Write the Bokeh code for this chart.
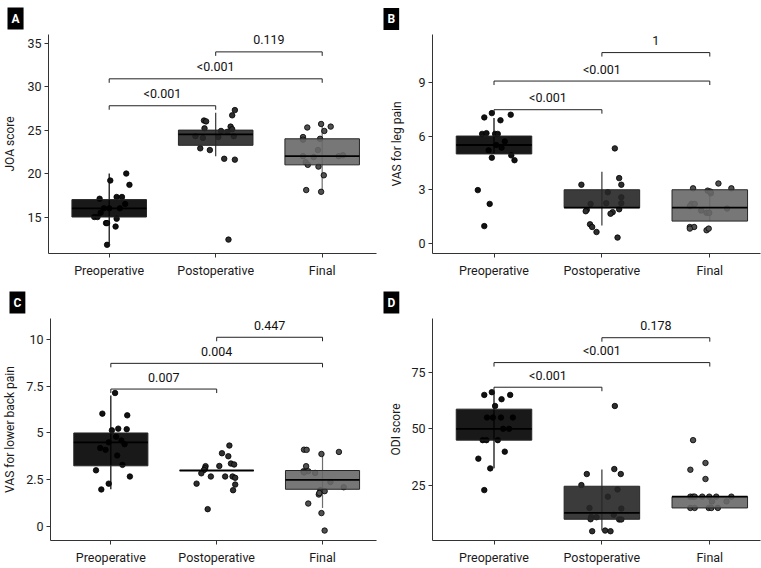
from bokeh.plotting import figure
from bokeh.models import Range1d, FixedTicker, Label, Title
from bokeh.layouts import column, row
from bokeh.embed import file_html
from bokeh.resources import INLINE

categories = ["Preoperative", "Postoperative", "Final"]

# ---------------- Panel A: JOA score ----------------
a_ylabel = "JOA score"
a_yticks = [15, 20, 25, 30, 35]
a_q1 = [15, 23.25, 21]
a_med = [16, 24.5, 22]
a_q3 = [17, 25, 24]
a_wlo = [12, 22, 18]
a_whi = [20, 27, 26]
a_pre = [11.8, 19.2, 20.0, 18.7, 17.1, 17.3, 17.3, 15.0, 15.0, 14.8, 14.3, 14.3, 13.9, 16.0, 16.0, 16.0, 16.5, 15.5]
a_pre_j = [-0.02, 0.01, 0.16, 0.19, -0.09, 0.07, 0.12, -0.14, -0.11, 0.07, -0.03, -0.02, 0.06, 0.0, 0.1, -0.05, 0.15, -0.08]
a_post = [26.1, 26.0, 27.3, 26.7, 25.4, 25.1, 25.2, 24.3, 24.1, 24.2, 24.9, 24.8, 24.3, 22.9, 22.7, 21.7, 21.6, 12.4]
a_post_j = [-0.11, -0.09, 0.18, 0.155, 0.14, 0.155, -0.105, -0.19, -0.12, 0.025, 0.05, 0.11, 0.17, -0.145, -0.055, 0.08, 0.18, 0.12]
a_final = [25.3, 25.7, 25.4, 24.9, 24.2, 23.9, 24.0, 22.7, 22.0, 21.9, 22.0, 22.1, 21.3, 21.0, 20.8, 19.8, 18.1, 17.9]
a_final_j = [-0.14, -0.01, 0.08, 0.02, -0.18, -0.18, -0.02, -0.04, -0.18, -0.08, 0.155, 0.195, -0.155, -0.135, -0.035, 0.015, -0.15, -0.01]
a_pairs = [(1, 2), (1, 3), (2, 3)]
a_bracket_y = [27.8, 30.9, 34.0]
a_pvalues = ["<0.001", "<0.001", "0.119"]

# ---------------- Panel B: VAS for leg pain ----------------
b_ylabel = "VAS for leg pain"
b_yticks = [0, 3, 6, 9]
b_q1 = [5, 2, 1.25]
b_med = [5.5, 2, 2]
b_q3 = [6, 3, 3]
b_wlo = [5, 1, 1.25]
b_whi = [7, 4, 3]
b_pre = [7.28, 7.04, 7.19, 6.88, 6.12, 6.16, 6.12, 6.12, 4.79, 4.92, 4.65, 2.98, 2.21, 0.97, 5.7, 5.35, 5.5, 5.2]
b_pre_j = [-0.02, -0.09, 0.155, 0.06, -0.11, -0.07, 0.01, 0.035, -0.02, 0.16, 0.19, -0.15, -0.04, -0.09, 0.1, 0.07, 0.02, -0.05]
b_post = [3.28, 5.31, 3.65, 3.28, 2.86, 2.58, 2.25, 2.25, 2.21, 1.88, 1.80, 1.75, 1.66, 1.91, 1.07, 0.92, 0.64, 0.33]
b_post_j = [-0.19, 0.12, 0.16, 0.18, 0.055, 0.18, 0.04, 0.18, -0.105, -0.14, -0.15, 0.10, 0.08, 0.16, -0.11, -0.09, -0.05, 0.145]
b_final = [3.08, 3.35, 3.08, 2.95, 2.8, 2.21, 2.21, 2.08, 1.84, 1.71, 1.71, 1.95, 0.92, 0.92, 0.83, 0.74, 0.83, 2.9]
b_final_j = [-0.155, 0.08, 0.2, -0.02, 0.01, -0.17, -0.14, -0.185, -0.08, -0.03, -0.005, 0.16, -0.185, -0.145, -0.185, -0.03, -0.01, 0.005]
b_pairs = [(1, 2), (1, 3), (2, 3)]
b_bracket_y = [7.47, 9.07, 10.66]
b_pvalues = ["<0.001", "<0.001", "1"]

# ---------------- Panel C: VAS for lower back pain ----------------
c_ylabel = "VAS for lower back pain"
c_yticks = [0, 2.5, 5, 7.5, 10]
c_q1 = [3.25, 3, 2]
c_med = [4.5, 3, 2.5]
c_q3 = [5, 3, 3]
c_wlo = [2, 3, 1]
c_whi = [7, 3, 4]
c_pre = [7.13, 6.03, 5.94, 5.23, 5.2, 5.14, 3.01, 2.68, 2.30, 1.99, 4.8, 4.6, 4.2, 4.1, 3.8, 3.3, 4.5, 4.4]
c_pre_j = [0.04, -0.08, 0.155, 0.07, 0.15, 0.01, -0.14, 0.18, -0.02, -0.09, 0.05, 0.1, -0.1, -0.05, 0.06, 0.11, -0.02, 0.13]
c_post = [4.33, 3.92, 3.76, 3.37, 3.32, 3.24, 3.23, 3.12, 3.03, 2.85, 2.68, 2.68, 2.68, 2.61, 2.30, 2.25, 1.95, 0.94]
c_post_j = [0.12, 0.05, 0.11, 0.135, 0.165, 0.025, -0.105, -0.11, -0.12, -0.145, -0.055, 0.08, 0.15, 0.175, -0.19, 0.175, 0.155, -0.085]
c_final = [4.11, 4.1, 3.88, 3.99, 3.23, 2.96, 2.96, 2.87, 2.39, 2.11, 1.95, 1.9, 1.72, 1.8, 1.24, 0.73, -0.2, 2.9]
c_final_j = [-0.175, -0.15, -0.01, 0.155, -0.155, -0.18, -0.135, -0.07, 0.075, 0.2, -0.02, 0.02, -0.035, -0.03, -0.135, -0.01, 0.02, -0.175]
c_pairs = [(1, 2), (1, 3), (2, 3)]
c_bracket_y = [7.34, 8.71, 10.1]
c_pvalues = ["0.007", "0.004", "0.447"]

# ---------------- Panel D: ODI score ----------------
d_ylabel = "ODI score"
d_yticks = [25, 50, 75]
d_q1 = [45, 10, 15]
d_med = [50, 12.8, 20]
d_q3 = [58.7, 24.6, 20]
d_wlo = [32.6, 5, 15]
d_whi = [66, 32, 20]
d_pre = [66.2, 65, 65, 63.1, 60.1, 36.8, 32.5, 39.9, 22.9, 55, 55, 55, 50, 50, 45, 45, 45, 55]
d_pre_j = [-0.02, -0.09, 0.15, 0.07, 0.01, -0.145, -0.035, 0.1, -0.09, -0.01, 0.065, 0.175, 0.085, 0.14, -0.105, -0.07, 0.035, -0.065]
d_post = [60.1, 32.2, 30.0, 30.0, 25.1, 23.2, 20.0, 15.0, 14.7, 11.0, 10.9, 10.0, 9.9, 9.9, 4.7, 5.0, 4.7, 12.0]
d_post_j = [0.12, 0.115, -0.14, 0.175, -0.19, 0.145, 0.055, -0.115, 0.18, -0.1, -0.05, -0.105, 0.16, 0.18, -0.09, 0.03, 0.08, 0.11]
d_final = [45, 34.9, 31.9, 27.8, 20, 20, 20, 20, 20, 20, 20, 17.9, 17.9, 15, 15, 15, 15, 15]
d_final_j = [-0.155, -0.04, -0.18, -0.04, -0.18, -0.155, -0.14, -0.07, -0.005, 0.06, 0.2, 0.02, 0.155, -0.18, -0.14, -0.01, 0.015, 0.075]
d_pairs = [(1, 2), (1, 3), (2, 3)]
d_bracket_y = [68.4, 79.3, 90.3]
d_pvalues = ["<0.001", "<0.001", "0.178"]

FONT = "Roboto"
box_fill = ["#000000", "#262626", "#686868"]
whisker_col = ["#000000", "#333333", "#6e6e6e"]
point_fill = ["#111111", "#2e2e2e", "#505050"]


def make_panel(letter, ylabel, yticks, yrange, xrange, q1, med, q3, wlo, whi,
               groups, jitters, pairs, bracket_y, pvalues,
               width, L, R, T, B, title_standoff):
    H = 284
    p = figure(width=width, height=H, x_range=Range1d(*xrange), y_range=Range1d(*yrange),
               output_backend="svg", toolbar_location=None,
               min_border_left=L, min_border_right=R, min_border_top=T, min_border_bottom=B)
    p.grid.visible = False
    p.outline_line_color = None
    xs = [1, 2, 3]
    # whiskers
    p.segment(x0=xs, y0=wlo, x1=xs, y1=whi, line_color=whisker_col, line_width=1.2)
    # points (under the semi-transparent boxes)
    for i, (vals, jit) in enumerate(zip(groups, jitters)):
        px = [xs[i] + j for j in jit]
        p.scatter(px, vals, size=5.5, fill_color=point_fill[i],
                  line_color="#000000", line_width=0.8)
    # boxes
    p.vbar(x=xs, width=0.7, bottom=q1, top=q3, fill_color=box_fill, fill_alpha=0.9,
           line_color="#262626", line_width=1)
    # medians
    p.segment(x0=[x - 0.35 for x in xs], y0=med, x1=[x + 0.35 for x in xs], y1=med,
              line_color="#000000", line_width=1.8)
    # brackets
    Hf = H - T - B
    tip = 4.0 * (yrange[1] - yrange[0]) / Hf
    toff = 12.0 * (yrange[1] - yrange[0]) / Hf
    bx0, by0, bx1, by1 = [], [], [], []
    tx, ty = [], []
    for (a, b), y in zip(pairs, bracket_y):
        bx0 += [a, a, b]; by0 += [y - tip, y, y - tip]
        bx1 += [a, b, b]; by1 += [y, y, y]
        tx.append((a + b) / 2); ty.append(y + toff)
    p.segment(x0=bx0, y0=by0, x1=bx1, y1=by1, line_color="#222222", line_width=1)
    for x, y, t in zip(tx, ty, pvalues):
        p.add_layout(Label(x=x, y=y, text=t, text_align="center", text_baseline="middle",
                           text_font=FONT, text_font_size="12.5px", text_color="#111111"))
    # axes
    p.xaxis.ticker = FixedTicker(ticks=xs)
    p.xaxis.major_label_overrides = {1: categories[0], 2: categories[1], 3: categories[2]}
    p.yaxis.ticker = FixedTicker(ticks=yticks)
    p.yaxis.axis_label = ylabel
    for ax in (p.xaxis[0], p.yaxis[0]):
        ax.axis_line_color = "#333333"
        ax.major_tick_line_color = "#333333"
        ax.major_tick_out = 4
        ax.major_tick_in = 0
        ax.minor_tick_line_color = None
        ax.major_label_text_font = FONT
        ax.major_label_text_font_size = "12.5px"
        ax.major_label_text_color = "#1a1a1a"
        ax.major_label_standoff = 3
    p.yaxis.axis_label_text_font = FONT
    p.yaxis.axis_label_text_font_size = "12px"
    p.yaxis.axis_label_text_font_style = "normal"
    p.yaxis.axis_label_text_color = "#1a1a1a"
    p.yaxis.axis_label_standoff = title_standoff
    p.xaxis.major_label_standoff = 5
    # panel letter
    p.add_layout(Title(text=letter, align="left", offset=3 - L, standoff=T - 23,
                       text_font=FONT, text_font_size="12px", text_font_style="bold",
                       text_color="white", background_fill_color="black", padding=4),
                 "above")
    return p


pA = make_panel("A", a_ylabel, a_yticks, (10.8, 36.0), (0.43, 3.51), a_q1, a_med, a_q3, a_wlo, a_whi,
                [a_pre, a_post, a_final], [a_pre_j, a_post_j, a_final_j], a_pairs, a_bracket_y, a_pvalues,
                380, 44, 4, 33, 31, 7)
pB = make_panel("B", b_ylabel, b_yticks, (-0.56, 11.67), (0.43, 3.47), b_q1, b_med, b_q3, b_wlo, b_whi,
                [b_pre, b_post, b_final], [b_pre_j, b_post_j, b_final_j], b_pairs, b_bracket_y, b_pvalues,
                381, 52, 1, 32, 31, 11)
pC = make_panel("C", c_ylabel, c_yticks, (-0.73, 11.1), (0.43, 3.51), c_q1, c_med, c_q3, c_wlo, c_whi,
                [c_pre, c_post, c_final], [c_pre_j, c_post_j, c_final_j], c_pairs, c_bracket_y, c_pvalues,
                380, 44, 4, 33, 28, 6)
pD = make_panel("D", d_ylabel, d_yticks, (0.6, 98.8), (0.43, 3.47), d_q1, d_med, d_q3, d_wlo, d_whi,
                [d_pre, d_post, d_final], [d_pre_j, d_post_j, d_final_j], d_pairs, d_bracket_y, d_pvalues,
                381, 52, 1, 33, 28, 5)

layout = column(row(pA, pB, spacing=0), row(pC, pD, spacing=0), spacing=0)
open("out.html", "w").write(file_html(layout, INLINE))
